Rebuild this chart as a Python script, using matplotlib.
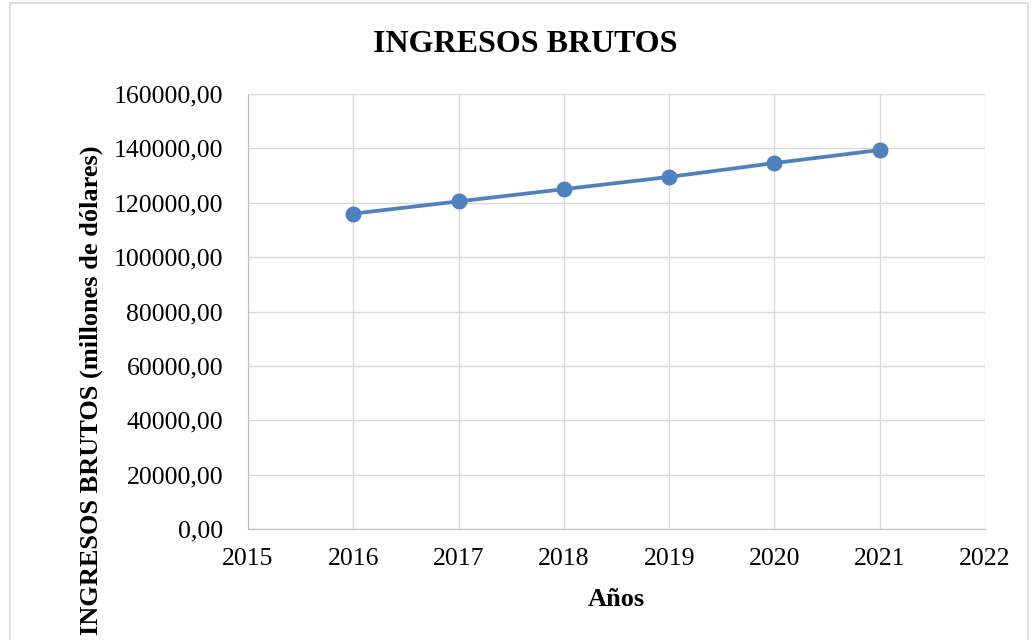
import matplotlib.pyplot as plt
from matplotlib.patches import Rectangle
from matplotlib.ticker import FuncFormatter

# datos
anios = [2016, 2017, 2018, 2019, 2020, 2021]
ingresos = [116000, 120500, 125000, 129500, 134600, 139400]

plt.rcParams['font.family'] = ['Liberation Serif', 'DejaVu Serif']

fig = plt.figure(figsize=(10.32, 6.4), dpi=100)
ax = fig.add_axes([248/1032, 1 - 529/640, (985-248)/1032, (529-94)/640])

# marco exterior del grafico
fig.patches.append(Rectangle((10/1032, -0.05), 1018/1032, 1.045, transform=fig.transFigure,
                             fill=False, edgecolor='#d9d9d9', linewidth=1.2))

ax.plot(anios, ingresos, color='#4f81bd', linewidth=2.7, marker='o', markersize=10.5,
        markerfacecolor='#4f81bd', markeredgecolor='#4f81bd', zorder=3)

ax.set_xlim(2015, 2022)
ax.set_ylim(0, 160000)
ax.set_xticks(range(2015, 2023))
ax.set_yticks(range(0, 160001, 20000))
ax.yaxis.set_major_formatter(FuncFormatter(lambda v, p: f"{v:.2f}".replace('.', ',')))

ax.grid(True, color='#d9d9d9', linewidth=1)
ax.set_axisbelow(True)
for s in ['top', 'right']:
    ax.spines[s].set_visible(False)
for s in ['left', 'bottom']:
    ax.spines[s].set_color('#bfbfbf')
ax.tick_params(length=0, labelsize=18.5)
ax.tick_params(axis='y', pad=18)
ax.tick_params(axis='x', pad=14)

fig.text(525/1032, 1 - 44/640, "INGRESOS BRUTOS", fontsize=23, fontweight='bold',
         ha='center', va='center')
fig.text(616/1032, 1 - 600/640, "Años", fontsize=19, fontweight='bold',
         ha='center', va='center')
fig.text(91/1032, 1 - 390/640, "INGRESOS BRUTOS (millones de dólares)", fontsize=19,
         fontweight='bold', rotation=90, ha='center', va='center')

fig.savefig("out.png", dpi=100)
